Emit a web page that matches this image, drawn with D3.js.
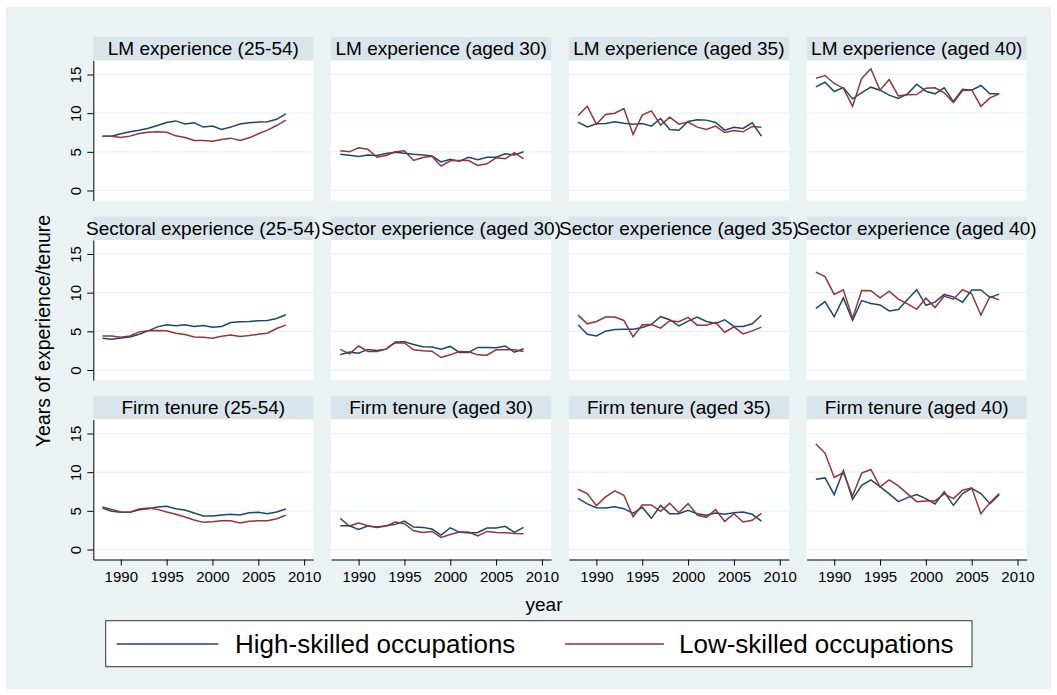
<!doctype html>
<html>
<head>
<meta charset="utf-8">
<script src="https://d3js.org/d3.v7.min.js"></script>
<style>
  body { margin: 0; background: #fff; }
  text { font-family: "Liberation Sans", Arial, sans-serif; fill: #000; }
</style>
</head>
<body>
<svg width="1057" height="695"></svg>
<script>
// ---- data ----
var years = [1988, 1989, 1990, 1991, 1992, 1993, 1994, 1995, 1996, 1997, 1998,
             1999, 2000, 2001, 2002, 2003, 2004, 2005, 2006, 2007, 2008];
var yearTicks = [1990, 1995, 2000, 2005, 2010];
var valueTicks = [0, 5, 10, 15];

var titles = ["LM experience (25-54)", "LM experience (aged 30)", "LM experience (aged 35)", "LM experience (aged 40)",
              "Sectoral experience (25-54)", "Sector experience (aged 30)", "Sector experience (aged 35)", "Sector experience (aged 40)",
              "Firm tenure (25-54)", "Firm tenure (aged 30)", "Firm tenure (aged 35)", "Firm tenure (aged 40)"];

var lmAllHigh = [7.03, 7.03, 7.33, 7.6, 7.8, 8.06, 8.4, 8.8, 9.0, 8.6, 8.75, 8.2, 8.35, 7.9, 8.2, 8.6, 8.75, 8.85, 8.9, 9.2, 9.9];
var lmAllLow  = [7.03, 7.03, 6.85, 7.03, 7.37, 7.54, 7.6, 7.54, 7.07, 6.85, 6.47, 6.47, 6.38, 6.6, 6.77, 6.47, 6.81, 7.33, 7.8, 8.4, 9.1];
var lm30High  = [4.7, 4.57, 4.4, 4.6, 4.53, 4.78, 4.96, 4.83, 4.7, 4.6, 4.48, 3.7, 4.05, 3.8, 4.3, 3.97, 4.3, 4.3, 4.74, 4.6, 5.0];
var lm30Low   = [5.13, 5.0, 5.52, 5.34, 4.3, 4.53, 5.0, 5.13, 3.88, 4.27, 4.44, 3.15, 3.84, 3.88, 3.88, 3.23, 3.45, 4.22, 4.1, 4.9, 4.1];
var lm35High  = [8.84, 8.23, 8.62, 8.66, 8.88, 8.71, 8.58, 8.66, 8.32, 9.31, 7.89, 7.8, 8.92, 9.14, 9.1, 8.79, 7.8, 8.19, 8.02, 8.75, 7.03];
var lm35Low   = [9.7, 10.9, 8.58, 9.83, 10.0, 10.6, 7.24, 9.74, 10.3, 8.45, 9.48, 8.58, 8.84, 8.19, 7.89, 8.32, 7.5, 7.76, 7.59, 8.28, 8.19];
var lm40High  = [13.4, 14.0, 12.8, 13.3, 11.85, 12.67, 13.36, 12.97, 12.33, 11.9, 12.5, 13.75, 12.84, 12.5, 13.28, 11.5, 13.1, 12.97, 13.58, 12.5, 12.5];
var lm40Low   = [14.5, 14.87, 13.84, 13.23, 10.9, 14.5, 15.73, 12.97, 14.35, 12.24, 12.37, 12.41, 13.23, 13.28, 12.63, 11.38, 12.93, 13.0, 10.9, 11.98, 12.5];

var secAllHigh = [4.1, 3.97, 4.14, 4.27, 4.62, 5.06, 5.58, 5.84, 5.71, 5.84, 5.63, 5.76, 5.54, 5.63, 6.15, 6.24, 6.28, 6.37, 6.41, 6.67, 7.15];
var secAllLow  = [4.4, 4.4, 4.23, 4.4, 4.93, 5.06, 5.1, 5.06, 4.75, 4.58, 4.27, 4.23, 4.1, 4.36, 4.54, 4.32, 4.45, 4.62, 4.75, 5.36, 5.8];
var sec30High  = [1.96, 2.31, 2.18, 2.66, 2.53, 2.7, 3.62, 3.66, 3.31, 3.0, 2.97, 2.7, 3.05, 2.27, 2.27, 2.92, 2.92, 2.88, 3.1, 2.31, 2.75];
var sec30Low   = [2.66, 2.09, 3.1, 2.4, 2.4, 2.7, 3.53, 3.49, 2.62, 2.49, 2.44, 1.61, 1.96, 2.4, 2.35, 1.96, 1.92, 2.62, 2.62, 2.62, 2.4];
var sec35High  = [5.84, 4.62, 4.4, 5.02, 5.23, 5.28, 5.28, 5.5, 5.89, 6.89, 6.5, 5.71, 6.32, 6.85, 6.28, 6.02, 6.5, 5.63, 5.63, 5.97, 7.07];
var sec35Low   = [7.1, 5.97, 6.28, 6.85, 6.85, 6.41, 4.27, 5.84, 5.89, 5.41, 6.37, 6.24, 6.8, 5.8, 5.8, 6.15, 4.88, 5.58, 4.67, 5.06, 5.54];
var sec40High  = [7.98, 8.85, 6.89, 9.33, 6.41, 8.98, 8.59, 8.42, 7.63, 7.81, 9.11, 10.38, 8.37, 8.77, 9.77, 9.46, 8.77, 10.34, 10.34, 9.38, 9.81];
var sec40Low   = [12.65, 12.08, 9.77, 10.38, 6.67, 10.29, 10.25, 9.33, 10.2, 9.16, 8.55, 7.85, 9.29, 8.07, 9.55, 9.16, 10.38, 9.86, 7.11, 9.51, 9.07];

var firmAllHigh = [5.37, 4.94, 4.81, 4.81, 5.15, 5.28, 5.5, 5.58, 5.28, 5.11, 4.72, 4.33, 4.33, 4.46, 4.55, 4.46, 4.76, 4.81, 4.63, 4.85, 5.24];
var firmAllLow  = [5.5, 5.19, 4.85, 4.81, 5.24, 5.37, 5.19, 4.85, 4.55, 4.2, 3.81, 3.51, 3.59, 3.72, 3.72, 3.42, 3.64, 3.72, 3.72, 3.98, 4.42];
var firm30High  = [3.07, 3.07, 2.6, 3.03, 2.9, 3.07, 3.25, 3.68, 2.9, 2.86, 2.64, 1.86, 2.81, 2.25, 2.12, 2.21, 2.77, 2.77, 2.99, 2.21, 2.86];
var firm30Low   = [4.03, 3.03, 3.42, 3.07, 2.86, 3.03, 3.55, 3.33, 2.42, 2.21, 2.34, 1.56, 1.95, 2.25, 2.25, 1.77, 2.34, 2.21, 2.16, 2.08, 2.03];
var firm35High  = [6.62, 5.89, 5.41, 5.37, 5.54, 5.28, 4.68, 5.45, 4.03, 5.71, 4.63, 4.63, 5.06, 4.63, 4.42, 4.72, 4.55, 4.76, 4.85, 4.55, 3.68];
var firm35Low   = [7.79, 7.23, 5.67, 6.8, 7.58, 7.01, 4.24, 5.76, 5.76, 4.94, 5.97, 4.76, 5.93, 4.46, 4.16, 5.15, 3.64, 4.63, 3.55, 3.77, 4.68];
var firm40High  = [9.09, 9.26, 7.1, 10.22, 6.49, 8.31, 9.0, 8.14, 7.19, 6.19, 6.71, 7.1, 6.58, 5.89, 7.45, 5.71, 7.23, 7.92, 7.23, 5.93, 7.1];
var firm40Low   = [13.64, 12.47, 9.31, 9.96, 6.93, 9.87, 10.35, 8.1, 9.0, 8.23, 7.19, 6.19, 6.28, 6.28, 7.19, 6.58, 7.66, 7.97, 4.63, 6.06, 7.23];

var highSeries = [lmAllHigh, lm30High, lm35High, lm40High, secAllHigh, sec30High, sec35High, sec40High,
                  firmAllHigh, firm30High, firm35High, firm40High];
var lowSeries  = [lmAllLow, lm30Low, lm35Low, lm40Low, secAllLow, sec30Low, sec35Low, sec40Low,
                  firmAllLow, firm30Low, firm35Low, firm40Low];

var navy = "#1a476f", maroon = "#90353b";

var svg = d3.select("svg");

// graph region
svg.append("rect")
   .attr("x", 6).attr("y", 7)
   .attr("width", 1045).attr("height", 682)
   .attr("fill", "#eaf2f3");

var panelW = 220, plotH = 140, stripH = 23.5;

titles.forEach(function(title, i) {
    var c = i % 4, r = Math.floor(i / 4);
    var x0 = 93.3 + c * 237.8;
    var top = 37 + r * 179.5;
    var plotTop = top + stripH, plotBot = plotTop + plotH;

    var x = d3.scaleLinear().domain([1987, 2011]).range([x0, x0 + panelW]);
    var y = d3.scaleLinear().domain([-1.293, 16.81]).range([plotBot, plotTop]);

    var g = svg.append("g");

    // strip + plot area
    g.append("rect").attr("x", x0).attr("y", top)
     .attr("width", panelW).attr("height", stripH).attr("fill", "#d9e5ea");
    g.append("rect").attr("x", x0).attr("y", plotTop)
     .attr("width", panelW).attr("height", plotH).attr("fill", "#fff");

    g.selectAll(".grid")
     .data(valueTicks)
     .enter().append("line")
     .attr("x1", x0).attr("x2", x0 + panelW)
     .attr("y1", function(d) { return y(d); })
     .attr("y2", function(d) { return y(d); })
     .attr("stroke", "#eaf2f3").attr("stroke-width", 1.2);

    var line = d3.line()
        .x(function(d, k) { return x(years[k]); })
        .y(function(d) { return y(d); });

    g.append("path").datum(highSeries[i])
     .attr("d", line).attr("fill", "none")
     .attr("stroke", navy).attr("stroke-width", 1.5);
    g.append("path").datum(lowSeries[i])
     .attr("d", line).attr("fill", "none")
     .attr("stroke", maroon).attr("stroke-width", 1.5);

    if (c == 0) {
        var ay = g.append("g")
          .attr("transform", "translate(" + x0 + ",0)")
          .call(d3.axisLeft(y).tickValues(valueTicks).tickSize(6).tickSizeOuter(0));
        ay.selectAll("text")
          .attr("transform", "rotate(-90)")
          .attr("x", 0).attr("y", -12).attr("dy", 0)
          .attr("text-anchor", "middle")
          .style("font-size", "15px")
          .style("font-family", "'Liberation Sans', Arial, sans-serif");
    }
    if (r == 2) {
        var ax = g.append("g")
          .attr("transform", "translate(0," + plotBot + ")")
          .call(d3.axisBottom(x).tickValues(yearTicks).tickFormat(d3.format("d"))
                .tickSize(6).tickSizeOuter(0).tickPadding(6));
        ax.selectAll("text")
          .style("font-size", "15px")
          .style("font-family", "'Liberation Sans', Arial, sans-serif");
    }

    // title overlays the strip (drawn last so neighbours' strips don't cover overflow)
    svg.append("text")
       .attr("class", "ptitle")
       .attr("x", x0 + panelW / 2).attr("y", top + 18)
       .attr("text-anchor", "middle")
       .style("font-size", "19px")
       .text(title);
});

svg.selectAll(".domain, .tick line").attr("stroke", "#000");
svg.selectAll(".ptitle").raise();

// axis titles
svg.append("text")
   .attr("x", 544).attr("y", 611)
   .attr("text-anchor", "middle")
   .style("font-size", "19px")
   .text("year");

svg.append("text")
   .attr("transform", "translate(50,331) rotate(-90)")
   .attr("text-anchor", "middle")
   .style("font-size", "19.5px")
   .text("Years of experience/tenure");

// legend
var lg = svg.append("g");
lg.append("rect")
  .attr("x", 105.7).attr("y", 620.7)
  .attr("width", 866.3).attr("height", 46)
  .attr("fill", "#fff").attr("stroke", "#333").attr("stroke-width", 1);

var legendItems = [
    { label: "High-skilled occupations", color: navy, x1: 116.7, x2: 218.3, tx: 235 },
    { label: "Low-skilled occupations", color: maroon, x1: 565, x2: 664, tx: 679 }
];
legendItems.forEach(function(d) {
    lg.append("line")
      .attr("x1", d.x1).attr("x2", d.x2)
      .attr("y1", 644).attr("y2", 644)
      .attr("stroke", d.color).attr("stroke-width", 1.6);
    lg.append("text")
      .attr("x", d.tx).attr("y", 653)
      .style("font-size", "26px")
      .text(d.label);
});
</script>
</body>
</html>
